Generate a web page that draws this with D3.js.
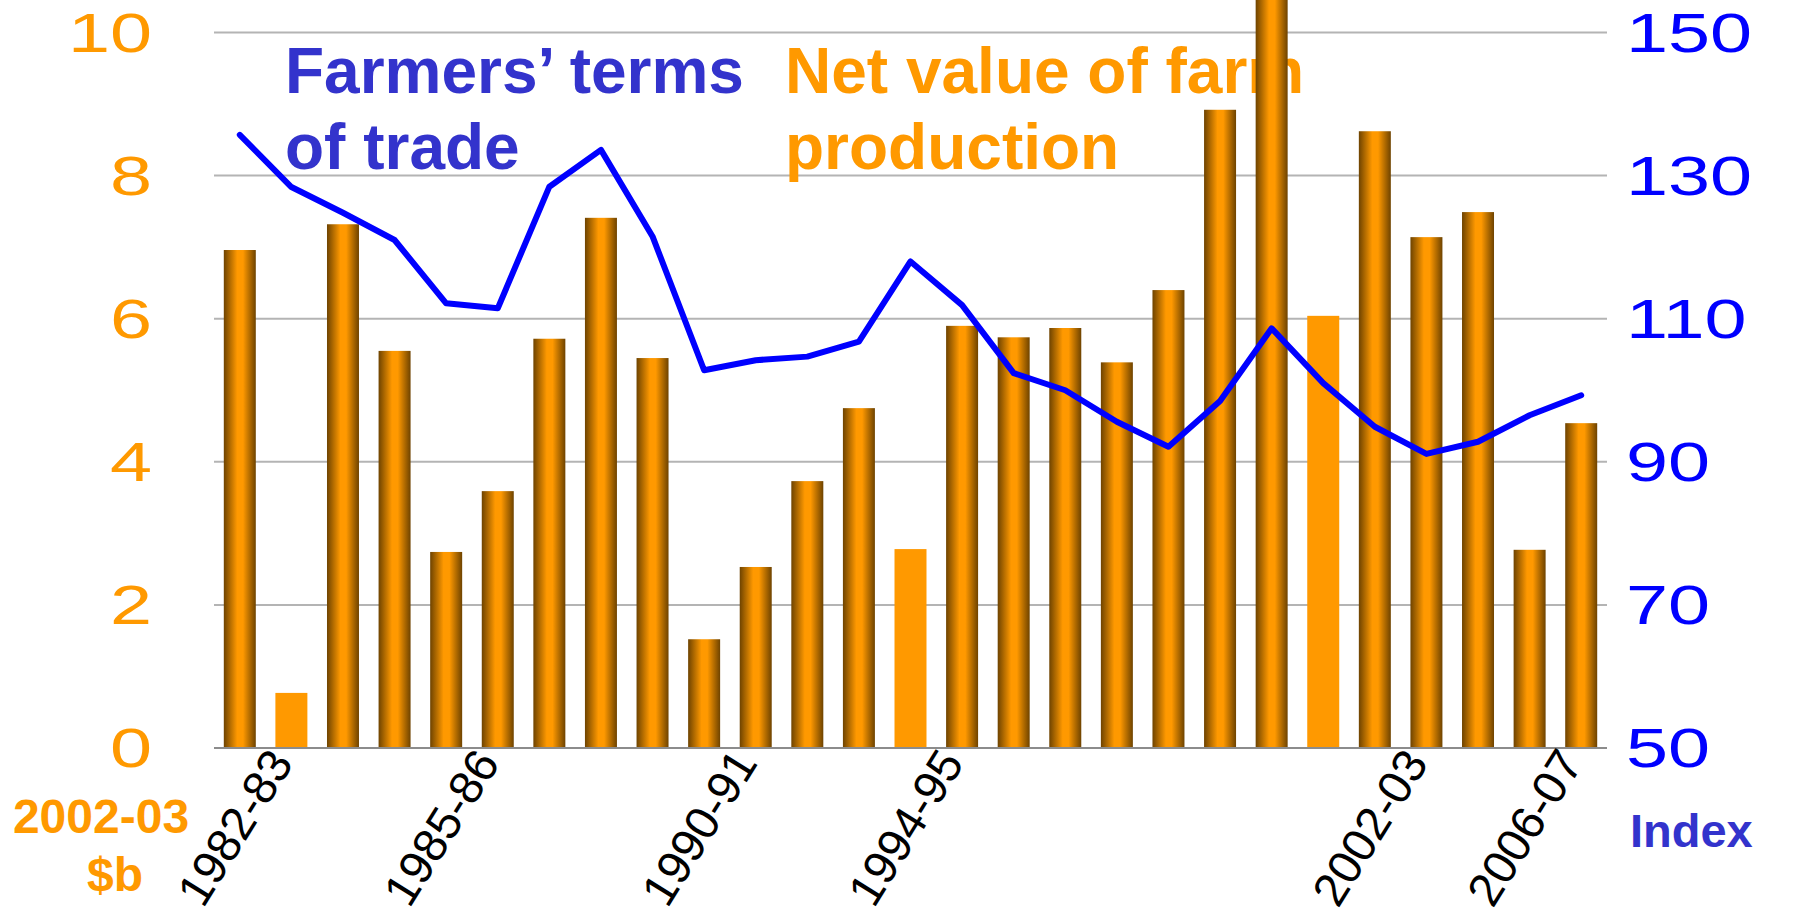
<!DOCTYPE html>
<html><head><meta charset="utf-8">
<script src="https://cdn.jsdelivr.net/npm/d3@7"></script>
<style>
body{margin:0;background:#fff;}
svg{display:block;}
text{font-family:"Liberation Sans",Arial,sans-serif;}
</style>
</head><body><svg id="c" width="1806" height="915"></svg>
<script>
// Category axis labels (sparse, as shown on the chart)
const categories = ["", "1982-83", "", "", "", "1985-86", "", "", "", "", "1990-91", "", "", "", "1994-95", "", "", "", "", "", "", "", "", "2002-03", "", "", "2006-07"];
// Net value of farm production, 2002-03 $b
const netValue = [6.96, 0.77, 7.32, 5.55, 2.74, 3.59, 5.72, 7.41, 5.45, 1.52, 2.53, 3.73, 4.75, 2.78, 5.90, 5.74, 5.87, 5.39, 6.40, 8.92, 11.0, 6.04, 8.62, 7.14, 7.49, 2.77, 4.54];
// Plain (drought-year) bars
const highlight = [false, true, false, false, false, false, false, false, false, false, false, false, false, true, false, false, false, false, false, false, false, true, false, false, false, false, false];
// Farmers' terms of trade, index
const termsOfTrade = [135.7, 128.4, 124.8, 121.0, 112.15, 111.45, 128.45, 133.6, 121.5, 102.8, 104.2, 104.7, 106.8, 118.0, 111.9, 102.4, 100.0, 95.6, 92.1, 98.5, 108.65, 101.0, 94.9, 91.1, 92.8, 96.5, 99.3];
const leftTicks = [0, 2, 4, 6, 8, 10];
const rightTicks = [50, 70, 90, 110, 130, 150];

const plot = {left: 214, right: 1607, top: 32.5, bottom: 748};
const ORANGE = "#ff9900", BLUE = "#0000ff", TITLEBLUE = "#3333cc";

const svg = d3.select("#c");
const defs = svg.append("defs");
const grad = defs.append("linearGradient").attr("id", "barGrad")
  .attr("x1", "0%").attr("x2", "100%").attr("y1", "0%").attr("y2", "0%");
[[0, "#6e4300"], [0.42, "#ff9900"], [0.6, "#ff9900"], [1, "#6e4300"]].forEach(([o, c]) =>
  grad.append("stop").attr("offset", o).attr("stop-color", c));

const x = d3.scaleBand().domain(d3.range(categories.length))
  .range([plot.left, plot.right]).paddingInner(0.38).paddingOuter(0.19);
const yL = d3.scaleLinear().domain([0, 10]).range([plot.bottom, plot.top]);
const yR = d3.scaleLinear().domain([50, 150]).range([plot.bottom, plot.top]);
const xc = i => x(i) + x.bandwidth() / 2;

// gridlines
svg.append("g").selectAll("line").data(leftTicks.filter(t => t > 0)).join("line")
  .attr("x1", plot.left).attr("x2", plot.right)
  .attr("y1", d => yL(d)).attr("y2", d => yL(d))
  .attr("stroke", "#b4b4b4").attr("stroke-width", 2);

// series titles (drawn beneath bars)
const t1 = svg.append("text").attr("fill", TITLEBLUE).attr("font-weight", "bold").attr("font-size", 64);
t1.append("tspan").attr("x", 285).attr("y", 92.7).text("Farmers’ terms");
t1.append("tspan").attr("x", 285).attr("y", 169).text("of trade");
const t2 = svg.append("text").attr("fill", ORANGE).attr("font-weight", "bold").attr("font-size", 64);
t2.append("tspan").attr("x", 785).attr("y", 92.7).text("Net value of farm");
t2.append("tspan").attr("x", 785).attr("y", 169).text("production");

// bars
svg.append("g").selectAll("rect").data(netValue).join("rect")
  .attr("x", (d, i) => x(i)).attr("width", x.bandwidth())
  .attr("y", d => yL(d)).attr("height", d => yL(0) - yL(d))
  .attr("fill", (d, i) => highlight[i] ? ORANGE : "url(#barGrad)");

// category axis line
svg.append("line").attr("x1", plot.left).attr("x2", plot.right)
  .attr("y1", yL(0)).attr("y2", yL(0)).attr("stroke", "#8c8c8c").attr("stroke-width", 2);

// terms of trade line
svg.append("path").datum(termsOfTrade)
  .attr("d", d3.line().x((d, i) => xc(i)).y(d => yR(d)))
  .attr("fill", "none").attr("stroke", BLUE).attr("stroke-width", 6)
  .attr("stroke-linejoin", "round").attr("stroke-linecap", "round");

// left axis tick labels
svg.append("g").selectAll("text").data(leftTicks).join("text")
  .attr("transform", d => `translate(152,${yL(d)}) scale(1.35,1)`)
  .attr("text-anchor", "end").attr("dy", "0.34em")
  .attr("font-size", 56).attr("fill", ORANGE).text(d => d);

// right axis tick labels
svg.append("g").selectAll("text").data(rightTicks).join("text")
  .attr("transform", d => `translate(1626,${yR(d)}) scale(1.35,1)`)
  .attr("text-anchor", "start").attr("dy", "0.34em")
  .attr("font-size", 56).attr("fill", BLUE).text(d => d);

// category labels
svg.append("g").selectAll("text").data(categories.map((c, i) => ({c, i})).filter(d => d.c))
  .join("text")
  .attr("transform", d => `translate(${xc(d.i) + 3},${yL(0) + 15}) rotate(-58)`)
  .attr("text-anchor", "end").attr("font-size", 47).attr("fill", "#000").text(d => d.c);

// axis titles
svg.append("text").attr("x", 101).attr("y", 833).attr("text-anchor", "middle")
  .attr("font-weight", "bold").attr("font-size", 48).attr("fill", ORANGE).text("2002-03");
svg.append("text").attr("x", 115).attr("y", 891).attr("text-anchor", "middle")
  .attr("font-weight", "bold").attr("font-size", 48).attr("fill", ORANGE).text("$b");
svg.append("text").attr("x", 1630).attr("y", 846.7)
  .attr("font-weight", "bold").attr("font-size", 47).attr("fill", TITLEBLUE).text("Index");
</script>
</body></html>
